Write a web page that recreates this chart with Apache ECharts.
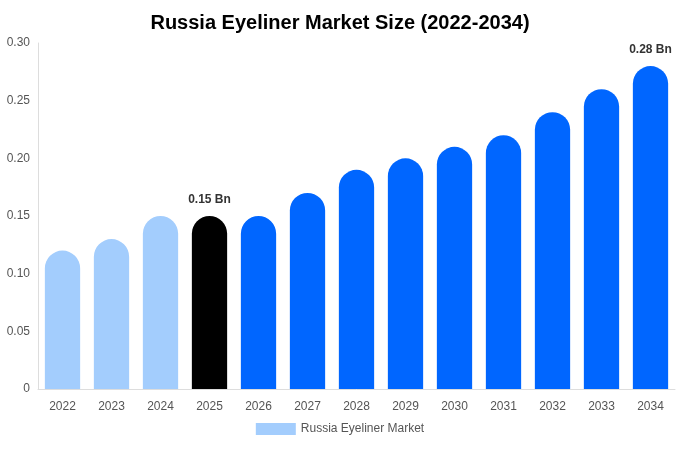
<!DOCTYPE html>
<html><head><meta charset="utf-8">
<script src="https://cdn.jsdelivr.net/npm/echarts@6/dist/echarts.min.js"></script>
<style>html,body{margin:0;padding:0}#c{width:680px;height:450px}</style>
</head><body><div id="c"></div>
<script>
const categories = ['2022','2023','2024','2025','2026','2027','2028','2029','2030','2031','2032','2033','2034'];
const values = [0.12,0.13,0.15,0.15,0.15,0.17,0.19,0.20,0.21,0.22,0.24,0.26,0.28];
const yTicks = ['0','0.05','0.10','0.15','0.20','0.25','0.30'];
const labeled = {'2025':'0.15 Bn','2034':'0.28 Bn'};
function colorFor(i){ const y=+categories[i]; return y<2025?'#a3cdfd':(y===2025?'#000000':'#0066ff'); }
const chart = echarts.init(document.getElementById('c'));
chart.setOption({
  title:{text:'Russia Eyeliner Market Size (2022-2034)',left:'center',top:8,textStyle:{fontFamily:'Liberation Sans, Arial',fontSize:20,fontWeight:'bold',color:'#000'}},
  legend:{bottom:10,itemWidth:40,itemHeight:12,icon:'rect',textStyle:{fontFamily:'Liberation Sans, Arial',color:'#555',fontSize:12},data:['Russia Eyeliner Market']},
  grid:{left:38,right:5,top:43,bottom:61},
  xAxis:{type:'category',data:categories,axisTick:{show:false},axisLine:{lineStyle:{color:'#ddd'}},axisLabel:{color:'#555',fontSize:12,fontFamily:'Liberation Sans, Arial',margin:12}},
  yAxis:{type:'value',min:0,max:0.3,interval:0.05,splitLine:{show:false},axisLine:{show:true,lineStyle:{color:'#ddd'}},
    axisLabel:{color:'#555',fontSize:12,fontFamily:'Liberation Sans, Arial',formatter:(v)=>yTicks[Math.round(v/0.05)]}},
  series:[{name:'Russia Eyeliner Market',type:'bar',barWidth:'72%',itemStyle:{color:'#a3cdfd'},
    data:values.map((v,i)=>({value:v,itemStyle:{color:colorFor(i),borderRadius:[18,18,0,0]},
      label:{show:!!labeled[categories[i]],position:'top',distance:10,formatter:labeled[categories[i]]||'',fontWeight:'bold',fontSize:12,color:'#333',fontFamily:'Liberation Sans, Arial'}}))}]
});
</script></body></html>
